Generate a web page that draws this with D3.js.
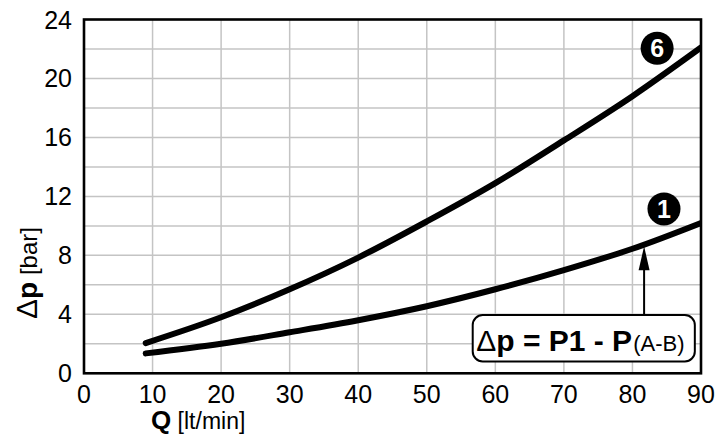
<!DOCTYPE html>
<html>
<head>
<meta charset="utf-8">
<script src="https://cdn.jsdelivr.net/npm/d3@7"></script>
<style>
  body { margin: 0; background: #fff; }
  text { font-family: "Liberation Sans", Arial, sans-serif; fill: #000; }
</style>
</head>
<body>
<script>
//Width and height
var w = 716;
var h = 443;

//Flow values (lt/min) and pressure drop (bar)
var flow = [9, 20, 30, 40, 50, 60, 70, 80, 90];
var curve6 = [2.05, 3.8, 5.7, 7.85, 10.3, 12.9, 15.8, 18.8, 22.1];
var curve1 = [1.35, 2.0, 2.78, 3.6, 4.55, 5.7, 7.0, 8.45, 10.2];

//Tick labels
var xTicks = [0, 10, 20, 30, 40, 50, 60, 70, 80, 90];
var yTicks = [0, 4, 8, 12, 16, 20, 24];
var yGrid = [2, 4, 6, 8, 10, 12, 14, 16, 18, 20, 22];

//Curve markers (number, position in data units)
var markerNames = ["6", "1"];
var markerQ = [83.6, 84.6];
var markerDp = [22.05, 11.15];

//Formula box and arrow (data units)
var boxQ = [56.7, 89.1];
var boxDp = [0.8, 3.95];
var arrowQ = 81.7;

var x = d3.scaleLinear().domain([0, 90]).range([84, 701]);
var y = d3.scaleLinear().domain([0, 24]).range([373.3, 19.5]);

var svg = d3.select("body")
            .append("svg")
            .attr("width", w)
            .attr("height", h);

//grid
svg.append("g")
   .selectAll("line.v")
   .data(xTicks.slice(1, -1))
   .enter().append("line")
   .attr("x1", function(d) { return x(d); })
   .attr("x2", function(d) { return x(d); })
   .attr("y1", y(0))
   .attr("y2", y(24))
   .attr("stroke", "#c4c4c4")
   .attr("stroke-width", 1.5);

svg.append("g")
   .selectAll("line.h")
   .data(yGrid)
   .enter().append("line")
   .attr("x1", x(0))
   .attr("x2", x(90))
   .attr("y1", function(d) { return y(d); })
   .attr("y2", function(d) { return y(d); })
   .attr("stroke", "#c4c4c4")
   .attr("stroke-width", 1.5);

//clip so the curves stop at the frame
svg.append("clipPath")
   .attr("id", "plot")
   .append("rect")
   .attr("x", x(0))
   .attr("y", y(24))
   .attr("width", x(90) - x(0))
   .attr("height", y(0) - y(24));

var line = d3.line()
             .x(function(d) { return x(d[0]); })
             .y(function(d) { return y(d[1]); })
             .curve(d3.curveMonotoneX);

[curve6, curve1].forEach(function(vals) {
    svg.append("path")
       .datum(flow.map(function(q, i) { return [q, vals[i]]; }))
       .attr("d", line)
       .attr("clip-path", "url(#plot)")
       .attr("fill", "none")
       .attr("stroke", "#000")
       .attr("stroke-width", 6)
       .attr("stroke-linecap", "round");
});

//frame
svg.append("rect")
   .attr("x", x(0))
   .attr("y", y(24))
   .attr("width", x(90) - x(0))
   .attr("height", y(0) - y(24))
   .attr("fill", "none")
   .attr("stroke", "#000")
   .attr("stroke-width", 2.6);

//tick labels
svg.append("g")
   .selectAll("text")
   .data(xTicks)
   .enter().append("text")
   .attr("x", function(d) { return x(d); })
   .attr("y", 403)
   .attr("text-anchor", "middle")
   .attr("font-size", 25)
   .text(function(d) { return d; });

svg.append("g")
   .selectAll("text")
   .data(yTicks)
   .enter().append("text")
   .attr("x", 72)
   .attr("y", function(d) { return y(d); })
   .attr("dy", "0.36em")
   .attr("text-anchor", "end")
   .attr("font-size", 25)
   .text(function(d) { return d; });

//axis titles
var xt = svg.append("text")
            .attr("x", 151)
            .attr("y", 429)
            .attr("font-size", 23);
xt.append("tspan").attr("font-weight", "bold").attr("font-size", 26).text("Q");
xt.append("tspan").text(" [lt/min]");

var yt = svg.append("text")
            .attr("transform", "translate(37,273) rotate(-90)")
            .attr("text-anchor", "middle")
            .attr("font-size", 24);
yt.append("tspan").attr("font-size", 30).text("\u0394");
yt.append("tspan").attr("font-weight", "bold").attr("font-size", 28).text("p");
yt.append("tspan").text(" [bar]");

//arrow from the formula box up to curve 1
var tipDp = d3.interpolateNumber(curve1[7], curve1[8])((arrowQ - flow[7]) / (flow[8] - flow[7]));
var tipY = y(tipDp) + 2;
svg.append("line")
   .attr("x1", x(arrowQ))
   .attr("x2", x(arrowQ))
   .attr("y1", y(boxDp[1]))
   .attr("y2", tipY + 20)
   .attr("stroke", "#000")
   .attr("stroke-width", 2);
svg.append("path")
   .attr("d", "M" + x(arrowQ) + "," + tipY +
              "L" + (x(arrowQ) - 5.5) + "," + (tipY + 24) +
              "L" + (x(arrowQ) + 5.5) + "," + (tipY + 24) + "Z")
   .attr("fill", "#000");

//formula box
svg.append("rect")
   .attr("x", x(boxQ[0]))
   .attr("y", y(boxDp[1]))
   .attr("width", x(boxQ[1]) - x(boxQ[0]))
   .attr("height", y(boxDp[0]) - y(boxDp[1]))
   .attr("rx", 10)
   .attr("fill", "#fff")
   .attr("stroke", "#000")
   .attr("stroke-width", 2);

var ft = svg.append("text")
            .attr("x", x(boxQ[0]) + 3.5)
            .attr("y", 351)
            .attr("font-size", 30);
ft.append("tspan").text("\u0394");
ft.append("tspan").attr("font-weight", "bold").text("p = P1 - P");
ft.append("tspan").attr("font-size", 22).attr("dx", 1).text("(A-B)");

//curve markers
var mk = svg.selectAll("g.marker")
            .data(markerNames)
            .enter().append("g")
            .attr("transform", function(d, i) {
                return "translate(" + x(markerQ[i]) + "," + y(markerDp[i]) + ")";
            });
mk.append("circle")
  .attr("r", 16.5)
  .attr("fill", "#000");
mk.append("text")
  .attr("text-anchor", "middle")
  .attr("dy", "0.36em")
  .attr("font-size", 25)
  .attr("font-weight", "bold")
  .style("fill", "#fff")
  .text(function(d) { return d; });
</script>
</body>
</html>
